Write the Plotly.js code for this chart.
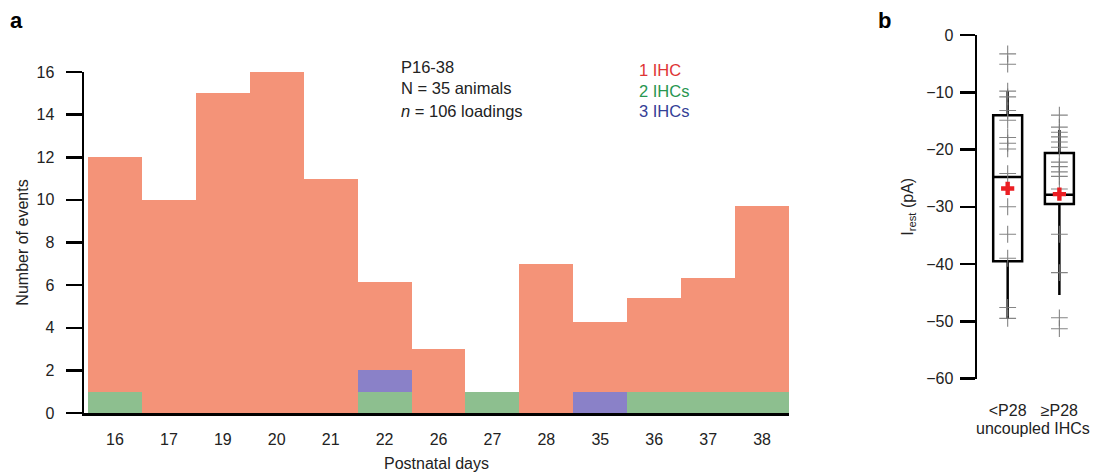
<!DOCTYPE html>
<html>
<head>
<meta charset="utf-8">
<script src="https://cdn.plot.ly/plotly-3.0.1.min.js"></script>
<style>html,body{margin:0;padding:0;background:#fff;}#chart{width:1096px;height:472px;}</style>
</head>
<body>
<div id="chart"></div>
<script>
// Panel a: postnatal day categories and stacked event counts
const days = ['16','17','19','20','21','22','26','27','28','35','36','37','38'];
const oneIHC = [11, 10, 15, 16, 11, 4.15, 3, 0, 7, 3.25, 4.4, 5.35, 8.7];
const twoIHCs = [1, 0, 0, 0, 0, 1, 0, 1, 0, 0, 1, 1, 1];
const threeIHCs = [0, 0, 0, 0, 0, 1, 0, 0, 0, 1, 0, 0, 0];

// Panel b: box statistics for uncoupled IHCs
const groups = ['<P28', '≥P28'];
const groupX = [0, 1];
const q1 = [-39.5, -29.5];
const med = [-24.8, -27.9];
const q3 = [-14.0, -20.6];
const lowFence = [-49.6, -45.4];
const upFence = [-9.8, -16.6];
const means = [-26.8, -27.8];
const ptsLt28 = [-3.3, -5.1, -9.8, -10.8, -13.2, -14.9, -17.9, -18.9, -19.9, -24.2, -30.0, -34.8, -39.0, -47.6, -49.5];
const ptsGe28 = [-14.0, -16.1, -17.0, -17.8, -18.7, -19.6, -22.2, -23.0, -23.9, -24.7, -26.9, -34.8, -41.5, -49.4, -51.3];

const W = 1096, H = 472;
const px = x => x / W;
const py = y => 1 - y / H;
const FONT = 'Liberation Sans, Arial, Helvetica, sans-serif';

const cOrange = 'rgb(244,147,120)';
const cGreen = 'rgb(141,191,143)';
const cPurple = 'rgb(138,129,200)';

const traces = [
  {type: 'bar', x: days, y: twoIHCs, marker: {color: cGreen, line: {width: 0}}, xaxis: 'x', yaxis: 'y', name: '2 IHCs'},
  {type: 'bar', x: days, y: threeIHCs, marker: {color: cPurple, line: {width: 0}}, xaxis: 'x', yaxis: 'y', name: '3 IHCs'},
  {type: 'bar', x: days, y: oneIHC, marker: {color: cOrange, line: {width: 0}}, xaxis: 'x', yaxis: 'y', name: '1 IHC'},
  {type: 'box', x: groupX, q1: q1, median: med, q3: q3, lowerfence: lowFence, upperfence: upFence,
   width: 0.56, whiskerwidth: 0, boxpoints: false, fillcolor: 'rgba(255,255,255,0)',
   line: {color: '#000', width: 2.5}, xaxis: 'x2', yaxis: 'y2'},
  {type: 'scatter', mode: 'markers', x: ptsLt28.map(() => groupX[0]).concat(ptsGe28.map(() => groupX[1])),
   y: ptsLt28.concat(ptsGe28), marker: {symbol: 'cross-thin', size: 12, line: {color: 'rgba(120,120,120,0.9)', width: 1.1}},
   xaxis: 'x2', yaxis: 'y2'},
  {type: 'scatter', mode: 'markers', x: groupX, y: means,
   marker: {symbol: 'cross', size: 11, color: 'rgb(235,30,35)', line: {width: 0}}, xaxis: 'x2', yaxis: 'y2'}
];

const layout = {
  width: W, height: H,
  margin: {l: 0, r: 0, t: 0, b: 0},
  paper_bgcolor: '#fff', plot_bgcolor: '#fff',
  showlegend: false,
  barmode: 'stack', bargap: 0,
  font: {family: FONT, size: 16, color: '#222'},
  xaxis: {
    domain: [px(84), px(789)], type: 'category', range: [-0.575, 12.5], anchor: 'y',
    showline: true, linecolor: '#000', linewidth: 2.5, ticks: '', showgrid: false, zeroline: false,
    ticklabelstandoff: 10, tickfont: {size: 16, color: '#222'},
    title: {text: 'Postnatal days', font: {size: 16, color: '#222'}, standoff: 14},
    fixedrange: true
  },
  yaxis: {
    domain: [py(413), py(72)], range: [0, 16], dtick: 2, tick0: 0, anchor: 'x',
    showline: true, linecolor: '#000', linewidth: 2.5, ticks: 'outside', ticklen: 16, tickwidth: 2.5, tickcolor: '#000',
    showgrid: false, zeroline: false, ticklabelstandoff: 8, tickfont: {size: 16, color: '#222'},
    title: {text: 'Number of events', font: {size: 16, color: '#222'}, standoff: 4},
    fixedrange: true
  },
  xaxis2: {
    domain: [px(977), px(1093)], range: [-0.593, 1.65], anchor: 'y2',
    showline: false, ticks: '', showgrid: false, zeroline: false,
    tickvals: groupX, ticktext: groups, ticklabelstandoff: 20, tickfont: {size: 16, color: '#222'},
    fixedrange: true
  },
  yaxis2: {
    domain: [py(378.5), py(35)], range: [-60, 0], dtick: 10, tick0: 0,
    anchor: 'x2',
    showline: true, linecolor: '#000', linewidth: 2.5, ticks: 'outside', ticklen: 15, tickwidth: 2.5, tickcolor: '#000',
    showgrid: false, zeroline: false, ticklabelstandoff: 3, tickfont: {size: 16, color: '#222'},
    title: {text: 'I<sub>rest</sub> (pA)', font: {size: 16, color: '#222'}, standoff: 9},
    fixedrange: true
  },
  annotations: [
    {text: '<b>a</b>', x: px(16), y: py(20), xref: 'paper', yref: 'paper', xanchor: 'center', yanchor: 'middle', showarrow: false, font: {size: 22, color: '#000'}},
    {text: '<b>b</b>', x: px(884), y: py(20), xref: 'paper', yref: 'paper', xanchor: 'center', yanchor: 'middle', showarrow: false, font: {size: 22, color: '#000'}},
    {text: 'P16-38', x: px(399), y: py(67), xref: 'paper', yref: 'paper', xanchor: 'left', yanchor: 'middle', showarrow: false, font: {size: 16.5, color: '#222'}},
    {text: 'N = 35 animals', x: px(399), y: py(88), xref: 'paper', yref: 'paper', xanchor: 'left', yanchor: 'middle', showarrow: false, font: {size: 16.5, color: '#222'}},
    {text: '<i>n</i> = 106 loadings', x: px(399), y: py(111), xref: 'paper', yref: 'paper', xanchor: 'left', yanchor: 'middle', showarrow: false, font: {size: 16.5, color: '#222'}},
    {text: '1 IHC', x: px(637), y: py(70), xref: 'paper', yref: 'paper', xanchor: 'left', yanchor: 'middle', showarrow: false, font: {size: 16.5, color: 'rgb(222,52,52)'}},
    {text: '2 IHCs', x: px(637), y: py(91), xref: 'paper', yref: 'paper', xanchor: 'left', yanchor: 'middle', showarrow: false, font: {size: 16.5, color: 'rgb(40,150,80)'}},
    {text: '3 IHCs', x: px(637), y: py(111), xref: 'paper', yref: 'paper', xanchor: 'left', yanchor: 'middle', showarrow: false, font: {size: 16.5, color: 'rgb(52,64,150)'}},
    {text: 'uncoupled IHCs', x: px(1033), y: py(428), xref: 'paper', yref: 'paper', xanchor: 'center', yanchor: 'middle', showarrow: false, font: {size: 16, color: '#222'}}
  ]
};

Plotly.newPlot('chart', traces, layout, {displayModeBar: false, staticPlot: true});
</script>
</body>
</html>
